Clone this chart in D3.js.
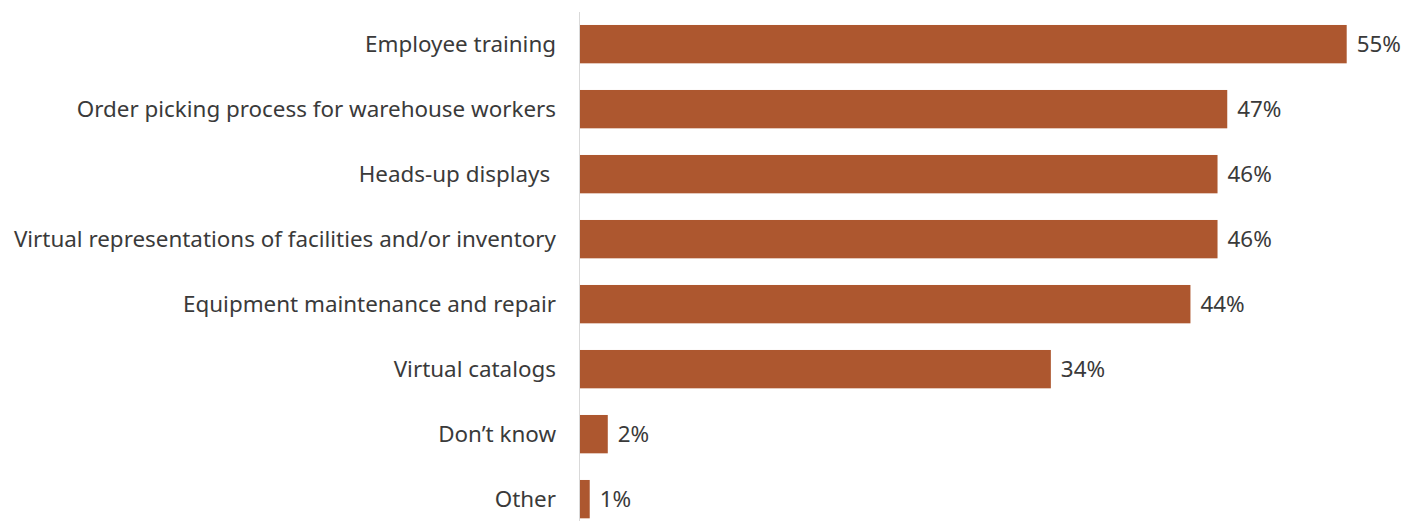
<!DOCTYPE html>
<html>
<head>
<meta charset="utf-8">
<script src="https://cdn.jsdelivr.net/npm/d3@7"></script>
<style>
  html, body { margin: 0; padding: 0; background: #ffffff; }
  svg { display: block; }
  text { font-family: "Noto Sans", sans-serif; fill: #3a3a3a; }
</style>
</head>
<body>
<svg id="chart" width="1403" height="521"></svg>
<script>
const categories = [
  "Employee training",
  "Order picking process for warehouse workers",
  "Heads-up displays ",
  "Virtual representations of facilities and/or inventory",
  "Equipment maintenance and repair",
  "Virtual catalogs",
  "Don\u2019t know",
  "Other"
];
const values = [55.2, 46.6, 45.9, 45.9, 43.95, 33.9, 2.0, 0.7];

const W = 1403, H = 521;
const x0 = 580;
const svg = d3.select("#chart");

const x = d3.scaleLinear().domain([0, 55.2]).range([x0, 1346.7]);
const y = d3.scaleBand()
  .domain(categories)
  .range([11.65, 11.65 + 65 * categories.length])
  .paddingInner(0.41)
  .paddingOuter(0.205);

const fmt = v => Math.round(v) + "%";

svg.selectAll("rect.bar")
  .data(values)
  .enter().append("rect")
  .attr("class", "bar")
  .attr("x", x(0))
  .attr("y", (d, i) => y(categories[i]))
  .attr("width", d => x(d) - x(0))
  .attr("height", y.bandwidth())
  .attr("fill", "#AD572F");

// vertical axis line
svg.append("line")
  .attr("x1", x0 - 0.5).attr("x2", x0 - 0.5)
  .attr("y1", 12).attr("y2", H)
  .attr("stroke", "#d9d9d9").attr("stroke-width", 1);

// category labels
svg.selectAll("text.cat")
  .data(categories)
  .enter().append("text")
  .attr("class", "cat")
  .attr("x", x0 - 24)
  .attr("y", d => y(d) + y.bandwidth() / 2)
  .attr("dy", "0.35em")
  .attr("text-anchor", "end")
  .style("font-size", "22.4px")
  .style("white-space", "pre")
  .text(d => d);

// value labels
svg.selectAll("text.val")
  .data(values)
  .enter().append("text")
  .attr("class", "val")
  .attr("x", d => x(d) + 10)
  .attr("y", (d, i) => y(categories[i]) + y.bandwidth() / 2)
  .attr("dy", "0.35em")
  .style("font-size", "22.4px")
  .text(d => fmt(d));
</script>
</body>
</html>
